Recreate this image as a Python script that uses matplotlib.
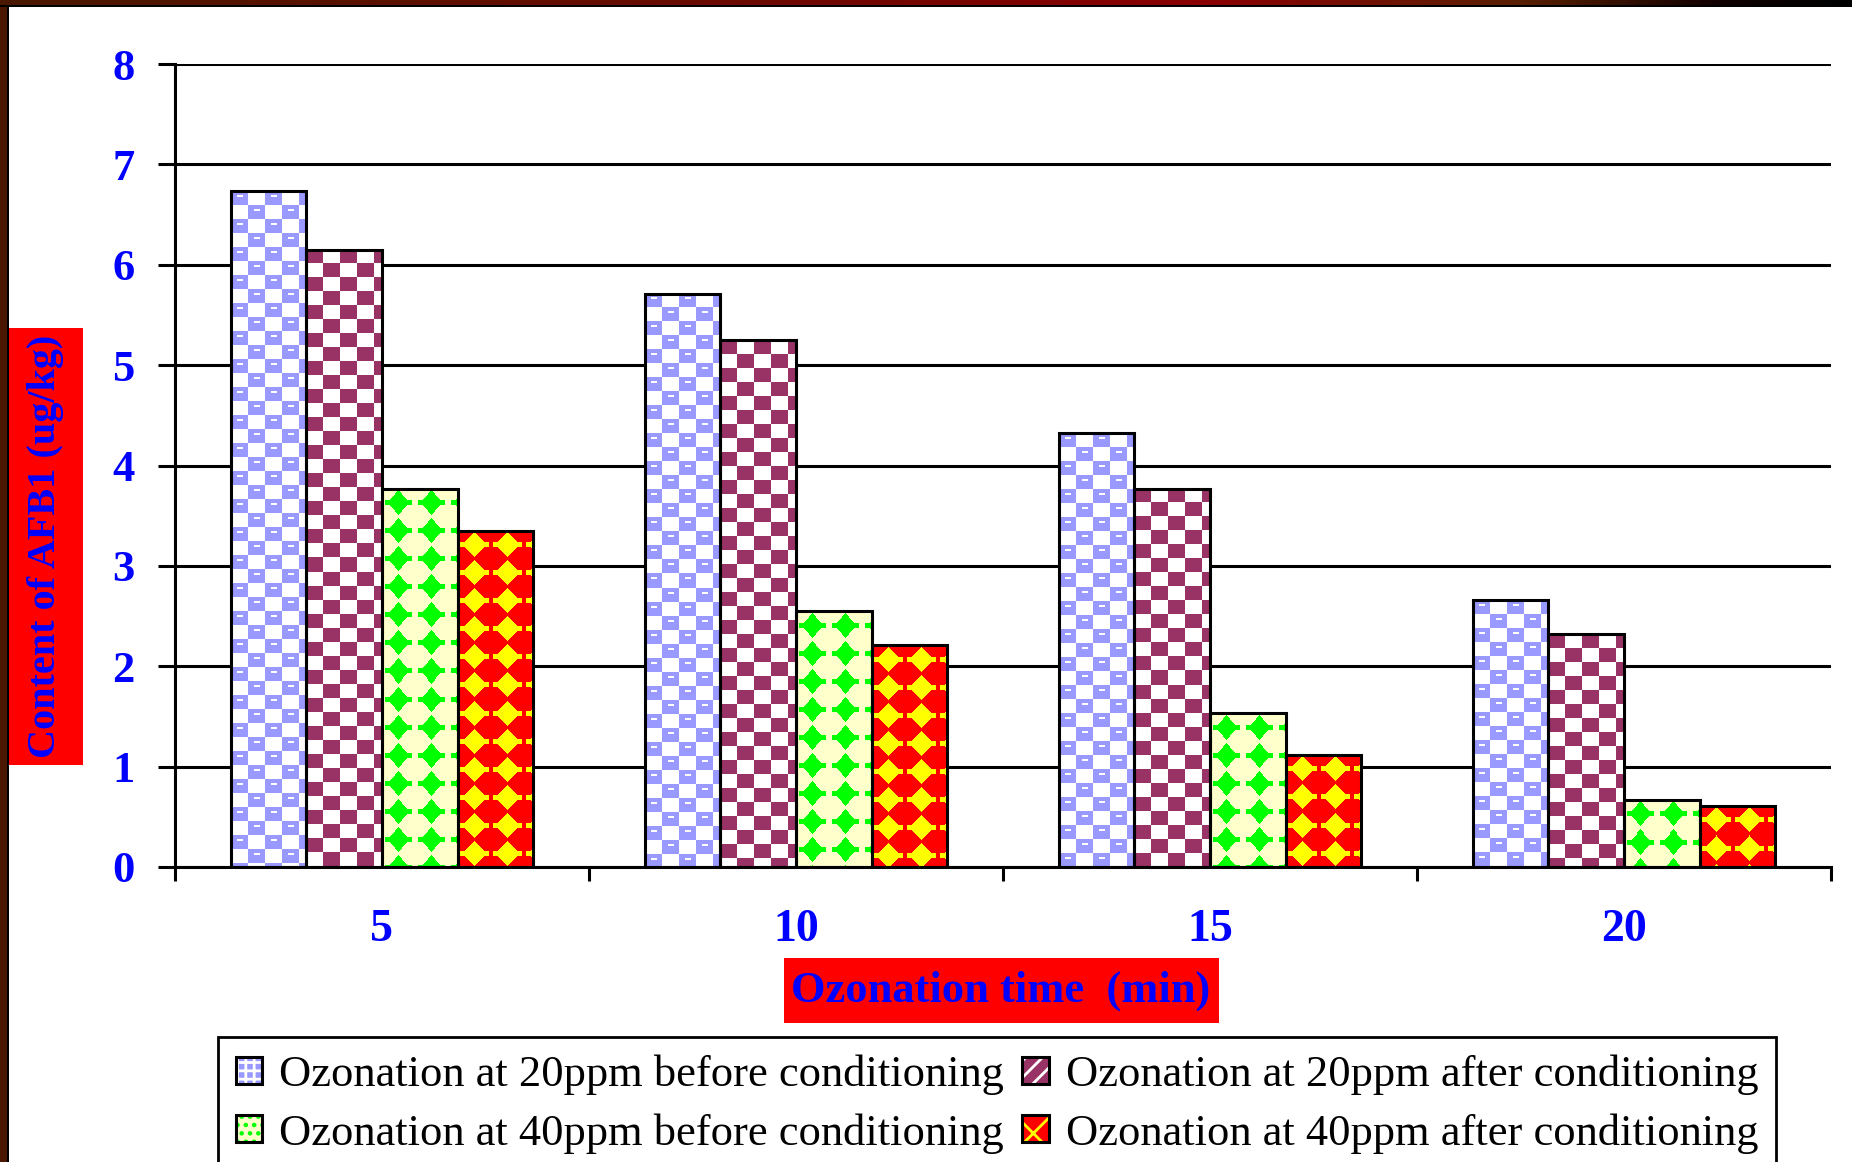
import numpy as np
import matplotlib
matplotlib.use("Agg")
import matplotlib.pyplot as plt
from matplotlib.patches import Rectangle
from matplotlib.colors import to_rgb, LinearSegmentedColormap
from matplotlib.legend_handler import HandlerTuple

# ---- data -------------------------------------------------------------
times = ["5", "10", "15", "20"]
series_labels = [
    "Ozonation at 20ppm before conditioning",
    "Ozonation at 20ppm after conditioning",
    "Ozonation at 40ppm before conditioning",
    "Ozonation at 40ppm after conditioning",
]
ppm20_before = [6.73, 5.71, 4.32, 2.66]
ppm20_after = [6.15, 5.25, 3.77, 2.32]
ppm40_before = [3.77, 2.55, 1.53, 0.67]
ppm40_after = [3.35, 2.21, 1.12, 0.61]
y_ticks = [0, 1, 2, 3, 4, 5, 6, 7, 8]

W, H, DPI = 1852, 1162, 100
SERIF = "Liberation Serif"
BLUE = "#0000FF"

plt.rcParams["hatch.linewidth"] = 2.0

fig = plt.figure(figsize=(W / DPI, H / DPI), dpi=DPI)
fig.patch.set_facecolor("white")


def fx(px):
    return px / W


def fy(py):
    return 1 - py / H


ax = fig.add_axes([fx(175), fy(867), (1831 - 175) / W, (867 - 64) / H])
ax.set_xlim(0, len(times))
ax.set_ylim(0, 8)


# ---- fill tiles (pixel patterns) -------------------------------------
def checker(color, dash=False):
    t = np.ones((28, 34, 3))
    yy, xx = np.mgrid[0:28, 0:34]
    mask = ((xx // 17) + (yy // 14)) % 2 == 0
    t[mask] = to_rgb(color)
    if dash:
        for x0, y0 in [(0, 0), (17, 14)]:
            t[y0 + 4:y0 + 6, x0 + 6:x0 + 12] = 1.0
    return t


def stars(bg, fg, rx, ry, arm):
    t = np.empty((28, 33, 3))
    t[:] = to_rgb(bg)
    yy, xx = np.mgrid[0:28, 0:33]
    dx = np.abs(xx - 16)
    dy = np.abs(yy - 14)
    mask = (dx / rx + dy / ry <= 1.0) | ((dy <= 2) & (dx <= arm))
    t[mask] = to_rgb(fg)
    return t


tiles = [
    checker("#9999FF", dash=True),
    checker("#993366"),
    stars("#FFFFCC", "#00FF00", 11, 12.5, 13),
    stars("#FF0000", "#FFFF00", 13, 12, 14),
]

series = [ppm20_before, ppm20_after, ppm40_before, ppm40_after]
n = len(series)
bar_w = 0.1826
x = np.arange(len(times)) + 0.5

bars_all = []
for i, vals in enumerate(series):
    pos = x + (i - (n - 1) / 2) * bar_w
    bars = ax.bar(pos, vals, width=bar_w, facecolor="none",
                  edgecolor="black", linewidth=2.2, zorder=3)
    bars_all.append(bars)


def pattern_fill(bar, tile):
    x0, y0 = bar.get_x(), bar.get_y()
    w, h = bar.get_width(), bar.get_height()
    p0 = ax.transData.transform((x0, y0))
    p1 = ax.transData.transform((x0 + w, y0 + h))
    npx = max(1, int(round(p1[0] - p0[0])))
    npy = max(1, int(round(p1[1] - p0[1])))
    ry = npy // tile.shape[0] + 2
    rx = npx // tile.shape[1] + 2
    img = np.tile(tile, (ry, rx, 1))[:npy, :npx]
    ax.imshow(img, extent=(x0, x0 + w, y0, y0 + h), origin="upper",
              interpolation="nearest", aspect="auto", zorder=2)


for bars, tile in zip(bars_all, tiles):
    for b in bars:
        pattern_fill(b, tile)

ax.set_xlim(0, len(times))
ax.set_ylim(0, 8)

# ---- axes styling -------------------------------------------------------
for side in ("top", "right"):
    ax.spines[side].set_visible(False)
for side in ("left", "bottom"):
    ax.spines[side].set_linewidth(2.2)
    ax.spines[side].set_color("black")

ax.set_yticks(y_ticks)
ax.yaxis.grid(True, color="black", linewidth=2.2, zorder=1)
ax.set_axisbelow(True)
ax.tick_params(axis="y", direction="out", length=12, width=2.2, pad=17,
               labelsize=32, labelcolor=BLUE)

ax.set_xticks(np.arange(len(times) + 1))
ax.set_xticklabels([])
ax.set_xticks(x, minor=True)
ax.set_xticklabels(times, minor=True)
ax.tick_params(axis="x", which="major", direction="out", length=10, width=2.2)
ax.tick_params(axis="x", which="minor", length=0, pad=30, labelsize=33,
               labelcolor=BLUE)

for lab in ax.get_yticklabels() + ax.get_xticklabels(minor=True):
    lab.set_fontfamily(SERIF)
    lab.set_fontweight("bold")

# ---- axis titles on red boxes --------------------------------------------
fig.add_artist(Rectangle((fx(9), fy(765)), 74 / W, 437 / H,
                         transform=fig.transFigure, facecolor="#FF0000",
                         edgecolor="none", zorder=0))
fig.add_artist(Rectangle((fx(784), fy(1023)), 435 / W, 65 / H,
                         transform=fig.transFigure, facecolor="#FF0000",
                         edgecolor="none", zorder=0))

ax.set_ylabel("Content of AFB1 (ug/kg)", fontfamily=SERIF,
              fontweight="bold", fontsize=29, color=BLUE)
ax.yaxis.set_label_coords((46 - 175) / 1656, (867 - 546) / 803)
ax.yaxis.label.set_va("center")

ax.set_xlabel("Ozonation time  (min)", fontfamily=SERIF,
              fontweight="bold", fontsize=32, color=BLUE)
ax.xaxis.set_label_coords((1001 - 175) / 1656, -(991 - 867) / 803)
ax.xaxis.label.set_va("center")

# ---- legend ---------------------------------------------------------------
def key(base, hatch, hcolor):
    return (Rectangle((0, 0), 1, 1, facecolor=base, edgecolor="none"),
            Rectangle((0, 0), 1, 1, fill=False, hatch=hatch,
                      edgecolor=hcolor, linewidth=0),
            Rectangle((0, 0), 1, 1, fill=False, edgecolor="black",
                      linewidth=2.2))


keys = [
    key("#9999FF", "++", "white"),
    key("#993366", "//", "white"),
    key("#FFFFCC", "..", "#00FF00"),
    key("#FF0000", "x", "#FFFF00"),
]
order = [0, 2, 1, 3]
leg = fig.legend([keys[i] for i in order], [series_labels[i] for i in order],
                 handler_map={tuple: HandlerTuple(ndivide=1, pad=0)},
                 ncol=2, loc="upper left",
                 bbox_to_anchor=(fx(218), fy(1037)), borderaxespad=0,
                 prop={"family": SERIF, "size": 32},
                 frameon=True, fancybox=False, shadow=False,
                 edgecolor="black", framealpha=1,
                 handlelength=0.6, handleheight=0.55, handletextpad=0.38,
                 columnspacing=0.4, labelspacing=0.4, borderpad=0.4)
leg.get_frame().set_linewidth(2.0)

# ---- picture frame ---------------------------------------------------------
fig.add_artist(Rectangle((0, 0), fx(7), 1, transform=fig.transFigure,
                         facecolor="#4a1800", edgecolor="none", zorder=5))
fig.add_artist(Rectangle((fx(7), 0), fx(1.5), 1, transform=fig.transFigure,
                         facecolor="black", edgecolor="none", zorder=5))
top = fig.add_axes([0, fy(5), 1, 5 / H], zorder=6)
grad = LinearSegmentedColormap.from_list(
    "frame", [(0.0, "#4a1800"), (0.45, "#700800"), (0.65, "#8b0000"),
              (0.82, "#5a2000"), (0.93, "#100000"), (1.0, "#000000")])
top.imshow(np.linspace(0, 1, 512)[None, :], cmap=grad, aspect="auto",
           extent=(0, 1, 0, 1))
top.set_axis_off()
fig.add_artist(Rectangle((0, fy(6.5)), 1, 1.5 / H, transform=fig.transFigure,
                         facecolor="black", edgecolor="none", zorder=7))

fig.savefig("out.png", dpi=DPI, facecolor="white")
